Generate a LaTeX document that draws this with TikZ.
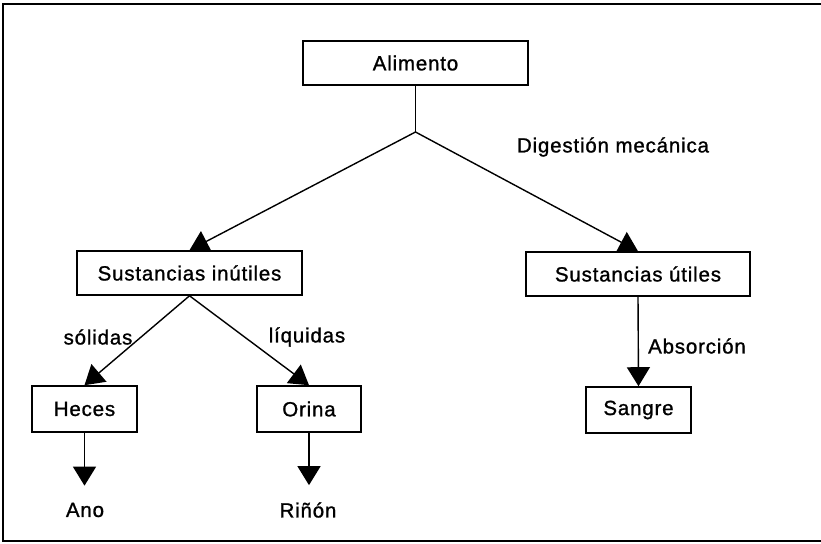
\documentclass[tikz,border=0pt]{standalone}
\usepackage{fontspec}
\setmainfont[LetterSpace=4,FakeBold=1.1]{Liberation Sans}
\usetikzlibrary{arrows.meta}
\begin{document}
\begin{tikzpicture}[x=1pt,y=-1pt,
  box/.style={draw,line width=1.6pt,fill=white,minimum height=44pt,inner sep=0pt,font=\fontsize{20.5}{24}\selectfont},
  lbl/.style={inner sep=0pt,font=\fontsize{20.5}{24}\selectfont},
  conn/.style={line width=1.4pt},
  arr/.style={conn,-{Triangle[length=19pt,width=23pt]}}]
\useasboundingbox (0,0) rectangle (821,543);
% frame
\draw[line width=1.8pt] (821,4) -- (3,4) -- (3,541) -- (821,541);
% boxes
\node[box,minimum width=225pt] (alimento) at (415.5,63) {Alimento};
\node[box,minimum width=225pt] (inutiles) at (189.5,273) {Sustancias inútiles};
\node[box,minimum width=224pt] (utiles) at (638,274) {Sustancias útiles};
\node[box,minimum width=105pt,minimum height=46pt] (heces) at (84.5,409) {Heces};
\node[box,minimum width=104pt,minimum height=46pt] (orina) at (309,409) {Orina};
\node[box,minimum width=105pt,minimum height=46pt] (sangre) at (638.5,410) {Sangre};
% labels
\node[lbl] (digestion) at (613,147) {Digestión mecánica};
\node[lbl] (solidas) at (98,337) {sólidas};
\node[lbl] (liquidas) at (307,337) {líquidas};
\node[lbl] (absorcion) at (697,346) {Absorción};
\node[lbl] (ano) at (85,510) {Ano};
\node[lbl] (rinon) at (308,510) {Riñón};
% connectors
\coordinate (split) at (415.5,132);
\draw[conn] (alimento.south) -- (split);
\draw[arr] (split) -- (inutiles.north);
\draw[arr] (split) -- (utiles.north);
\draw[arr] (inutiles.south) -- (heces.north);
\draw[arr] (inutiles.south) -- (orina.north);
\draw[arr] (utiles.south) -- (sangre.north);
\draw[arr,shorten >=17pt] (heces.south) -- (heces.south |- ano.north);
\draw[arr,shorten >=17pt] (orina.south) -- (orina.south |- rinon.north);
\end{tikzpicture}
\end{document}
